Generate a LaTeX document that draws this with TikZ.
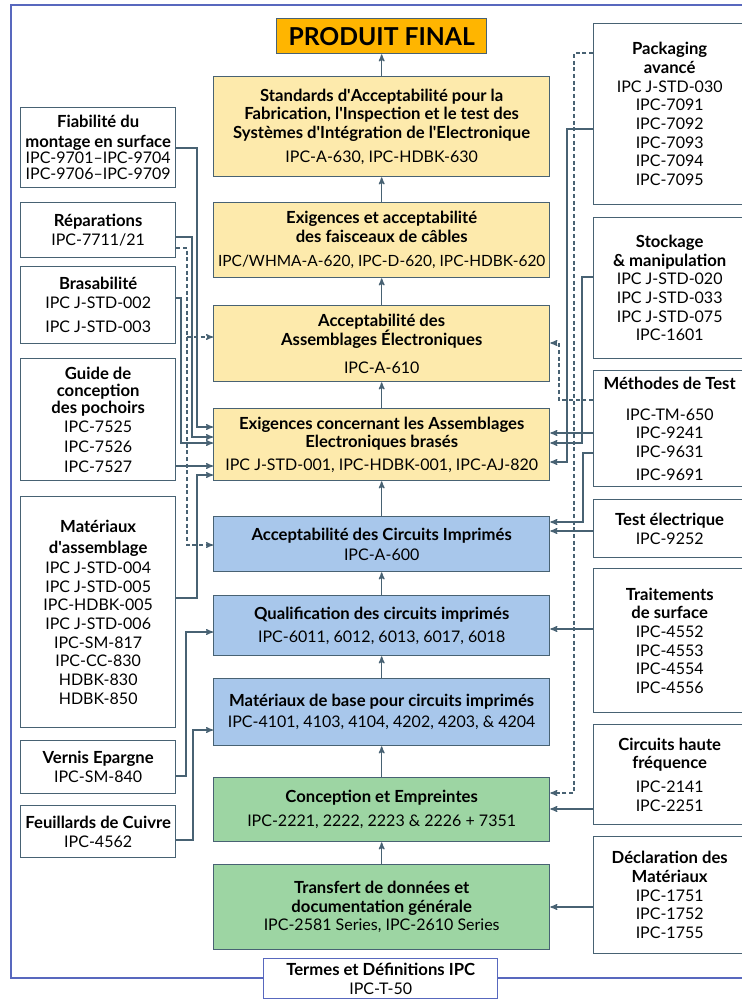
\documentclass[tikz,border=0pt]{standalone}
\usepackage{fontspec}
\setmainfont{Lato}
\usetikzlibrary{arrows,positioning}
\definecolor{slate}{RGB}{72,98,115}
\definecolor{frameblue}{RGB}{88,104,190}
\definecolor{yellowbox}{RGB}{253,234,172}
\definecolor{bluebox}{RGB}{168,199,235}
\definecolor{greenbox}{RGB}{157,213,163}
\definecolor{orangebox}{RGB}{255,181,0}
\newcommand\hd[1]{{\fontsize{12.5}{14}\selectfont\bfseries #1}}
\newcommand\q{\textquotesingle}

\begin{document}
\begin{tikzpicture}[x=0.75pt,y=-0.75pt,>=stealth',
    every node/.style={font=\fontsize{12}{14}\selectfont,align=center,inner sep=0pt},
    box/.style={draw=slate,line width=1pt,anchor=north west},
    side box/.style={box,fill=white,minimum width=116.25pt},
    right box/.style={box,fill=white,minimum width=114pt},
    main box/.style={box,minimum width=252pt},
    boxh/.style={minimum height=#1*0.75pt},
    link/.style={->,draw=slate,line width=0.9pt},
    dlink/.style={link,dash pattern=on 3pt off 2pt}]

  \useasboundingbox (0,0) rectangle (742,999);
  \draw[frameblue,line width=1.2pt] (11,5) rectangle (760,978);

  % colonne centrale
  \node[box,fill=orangebox,minimum width=157.5pt,boxh=35,font=\fontsize{18.5}{20}\selectfont\bfseries] (final) at (276,18) {PRODUIT FINAL};
  \node[main box,fill=yellowbox,boxh=100] (stand) at (213,76) {\hd{Standards d\q Acceptabilité pour la}\\\hd{Fabrication, l\q Inspection et le test des}\\\hd{Systèmes d\q Intégration de l\q Electronique}\\[4pt]IPC-A-630, IPC-HDBK-630};
  \node[main box,fill=yellowbox,boxh=75] (faisc) at (213,202) {\hd{Exigences et acceptabilité}\\\hd{des faisceaux de câbles}\\[4pt]{\fontsize{11.6}{14}\selectfont IPC/WHMA-A-620, IPC-D-620, IPC-HDBK-620}};
  \node[main box,fill=yellowbox,boxh=76] (accass) at (213,305) {\hd{Acceptabilité des}\\\hd{Assemblages Électroniques}\\[7pt]IPC-A-610};
  \node[main box,fill=yellowbox,boxh=72] (brase) at (213,408) {\hd{Exigences concernant les Assemblages}\\\hd{Electroniques brasés}\\[3pt]IPC J-STD-001, IPC-HDBK-001, IPC-AJ-820};
  \node[main box,fill=bluebox,boxh=55] (acccirc) at (213,516) {\hd{Acceptabilité des Circuits Imprimés}\\[1pt]IPC-A-600};
  \node[main box,fill=bluebox,boxh=60] (qualif) at (213,595) {\hd{Qualification des circuits imprimés}\\[3pt]IPC-6011, 6012, 6013, 6017, 6018};
  \node[main box,fill=bluebox,boxh=67] (matbase) at (213,678) {\hd{Matériaux de base pour circuits imprimés}\\[2pt]IPC-4101, 4103, 4104, 4202, 4203, \& 4204};
  \node[main box,fill=greenbox,boxh=64] (concep) at (213,777) {\hd{Conception et Empreintes}\\[4pt]IPC-2221, 2222, 2223 \& 2226 + 7351};
  \node[main box,fill=greenbox,boxh=85] (transf) at (213,864) {\hd{Transfert de données et}\\\hd{documentation générale}\\IPC-2581 Series, IPC-2610 Series};

  % colonne gauche
  \node[side box,boxh=80] (fiab) at (20,107) {\hd{Fiabilité du}\\[1pt]\hd{montage en surface}\\[-2pt]IPC-9701--IPC-9704\\[-2pt]IPC-9706--IPC-9709};
  \node[side box,boxh=55] (repar) at (20,202) {\hd{Réparations}\\IPC-7711/21};
  \node[side box,boxh=77] (brasab) at (20,266) {\hd{Brasabilité}\\IPC J-STD-002\\[4pt]IPC J-STD-003};
  \node[side box,boxh=122] (guide) at (20,358) {\hd{Guide de}\\[-1pt]\hd{conception}\\[-1pt]\hd{des pochoirs}\\IPC-7525\\[1pt]IPC-7526\\[1pt]IPC-7527};
  \node[side box,boxh=231] (matass) at (20,496) {\hd{Matériaux}\\[2pt]\hd{d\q assemblage}\\[1pt]IPC J-STD-004\\IPC J-STD-005\\IPC-HDBK-005\\IPC J-STD-006\\IPC-SM-817\\IPC-CC-830\\HDBK-830\\HDBK-850};
  \node[side box,boxh=53] (vernis) at (20,740) {\hd{Vernis Epargne}\\IPC-SM-840};
  \node[side box,boxh=52] (feuil) at (20,805) {\hd{Feuillards de Cuivre}\\IPC-4562};

  % colonne droite
  \node[right box,boxh=181] (pack) at (593,23) {\hd{Packaging}\\\hd{avancé}\\IPC J-STD-030\\IPC-7091\\IPC-7092\\IPC-7093\\IPC-7094\\IPC-7095};
  \node[right box,boxh=141] (stock) at (593,217) {\hd{Stockage}\\\hd{\& manipulation}\\IPC J-STD-020\\IPC J-STD-033\\IPC J-STD-075\\IPC-1601};
  \node[right box,boxh=116] (meth) at (593,370) {\hd{Méthodes de Test}\\[9pt]IPC-TM-650\\IPC-9241\\IPC-9631\\[3pt]IPC-9691};
  \node[right box,boxh=58] (testel) at (593,499) {\hd{Test électrique}\\IPC-9252};
  \node[right box,boxh=144] (trait) at (593,568) {\hd{Traitements}\\\hd{de surface}\\IPC-4552\\IPC-4553\\IPC-4554\\IPC-4556};
  \node[right box,boxh=100] (circhf) at (593,724) {\hd{Circuits haute}\\\hd{fréquence}\\[4pt]IPC-2141\\IPC-2251};
  \node[right box,boxh=117] (decl) at (593,836) {\hd{Déclaration des}\\\hd{Matériaux}\\IPC-1751\\IPC-1752\\IPC-1755};

  \node[box,draw=frameblue,fill=white,minimum width=175.5pt,boxh=40] (termes) at (263,958) {\hd{Termes et Définitions IPC}\\IPC-T-50};

  % fleches centrales
  \foreach \a/\b in {transf/concep,concep/matbase,matbase/qualif,qualif/acccirc,
                     acccirc/brase,brase/accass,accass/faisc,faisc/stand,stand/final}
    \draw[link] (\a.north) -- (\b.south);

  % liens gauche
  \draw[link] (fiab.east |- 0,148) -- (197,148) |- (brase.west |- 0,427);
  \draw[link] (repar.east |- 0,237) -- (192,237) |- (brase.west |- 0,437);
  \draw[dlink] (repar.east |- 0,248) -- (187,248) |- (accass.west |- 0,337);
  \draw[dlink] (187,337) |- (acccirc.west |- 0,545);
  \draw[link] (brasab.east |- 0,298) -- (181,298) |- (brase.west |- 0,443);
  \draw[link] (guide.east |- 0,466) -- (brase.west |- 0,466);
  \draw[link] (matass.east |- 0,598) -- (197,598) |- (brase.west |- 0,475);
  \draw[link] (vernis.east |- 0,776) -- (186,776) |- (qualif.west |- 0,632);
  \draw[link] (feuil.east |- 0,840) -- (193,840) |- (matbase.west |- 0,730);

  % liens droite
  \draw[dlink] (pack.west |- 0,53) -- (574,53) |- (concep.east |- 0,793);
  \draw[link] (pack.west |- 0,129) -- (567,129) |- (brase.east |- 0,462);
  \draw[link] (stock.west |- 0,277) -- (582,277) |- (brase.east |- 0,443);
  \draw[link] (meth.west |- 0,433) -- (brase.east |- 0,433);
  \draw[dlink] (meth.west |- 0,400) -- (559,400) |- (accass.east |- 0,343);
  \draw[link] (meth.west |- 0,453) -- (583,453) |- (acccirc.east |- 0,522);
  \draw[link] (testel.west |- 0,531) -- (acccirc.east |- 0,531);
  \draw[link] (trait.west |- 0,629) -- (qualif.east |- 0,629);
  \draw[link] (circhf.west |- 0,809) -- (concep.east |- 0,809);
  \draw[link] (decl.west |- 0,907) -- (transf.east |- 0,907);
\end{tikzpicture}
\end{document}
